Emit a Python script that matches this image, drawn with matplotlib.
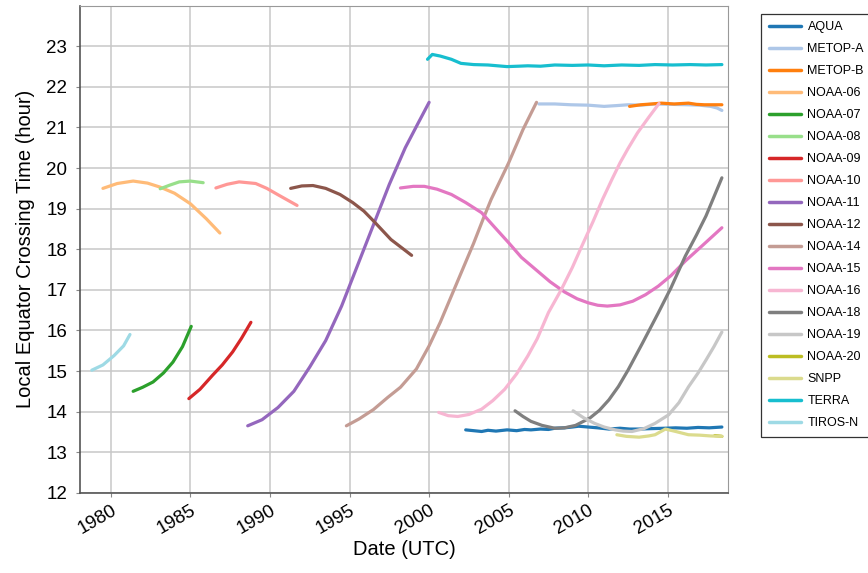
import matplotlib
matplotlib.use("Agg")
import matplotlib.pyplot as plt

plt.rcParams["font.family"] = ["Liberation Sans", "DejaVu Sans"]

# Satellite local equator crossing time
tiros_n_t = [1978.8, 1979.5, 1980.2, 1980.8, 1981.2]
tiros_n_h = [15.02, 15.15, 15.38, 15.62, 15.9]

noaa06_t = [1979.5, 1980.4, 1981.4, 1982.3, 1983.1, 1984.0, 1985.0, 1986.0, 1986.85]
noaa06_h = [19.5, 19.62, 19.68, 19.63, 19.53, 19.38, 19.12, 18.75, 18.4]

noaa07_t = [1981.4, 1982.0, 1982.65, 1983.3, 1983.9, 1984.5, 1985.05]
noaa07_h = [14.5, 14.6, 14.73, 14.95, 15.22, 15.6, 16.1]

noaa08_t = [1983.1, 1983.7, 1984.3, 1985.0, 1985.8]
noaa08_h = [19.49, 19.58, 19.66, 19.68, 19.64]

noaa09_t = [1984.9, 1985.6, 1986.4, 1987.0, 1987.65, 1988.2, 1988.8]
noaa09_h = [14.32, 14.55, 14.9, 15.15, 15.47, 15.8, 16.2]

noaa10_t = [1986.6, 1987.3, 1988.06, 1989.1, 1989.8, 1990.56, 1991.7]
noaa10_h = [19.51, 19.6, 19.66, 19.62, 19.5, 19.33, 19.08]

noaa11_t = [1988.6, 1989.5, 1990.5, 1991.5, 1992.5, 1993.5, 1994.5, 1995.5,
            1996.5, 1997.5, 1998.5, 1999.3, 2000.0]
noaa11_h = [13.65, 13.8, 14.1, 14.5, 15.1, 15.75, 16.6, 17.6,
            18.6, 19.6, 20.5, 21.1, 21.62]

noaa12_t = [1991.3, 1992.0, 1992.7, 1993.5, 1994.4, 1995.2, 1995.9, 1996.5, 1997.6, 1998.9]
noaa12_h = [19.5, 19.56, 19.57, 19.5, 19.35, 19.15, 18.94, 18.7, 18.24, 17.85]

noaa14_t = [1994.8, 1995.6, 1996.5, 1997.4, 1998.2, 1999.2, 2000.0, 2000.7, 2001.4,
            2002.1, 2002.8, 2003.4, 2003.9, 2004.5, 2005.0, 2005.9, 2006.75]
noaa14_h = [13.65, 13.82, 14.05, 14.35, 14.6, 15.05, 15.62, 16.2, 16.85,
            17.5, 18.15, 18.75, 19.23, 19.72, 20.13, 20.95, 21.62]

noaa15_t = [1998.2, 1999.0, 1999.7, 2000.5, 2001.4, 2002.3, 2003.3, 2004.1, 2005.0,
            2005.8, 2006.7, 2007.6, 2008.5, 2009.3, 2010.0, 2010.6, 2011.2, 2012.0,
            2012.8, 2013.6, 2014.4, 2015.2, 2016.1, 2017.2, 2018.4]
noaa15_h = [19.51, 19.55, 19.55, 19.48, 19.35, 19.15, 18.9, 18.55, 18.16,
            17.8, 17.5, 17.2, 16.95, 16.78, 16.68, 16.62, 16.6, 16.63,
            16.72, 16.88, 17.09, 17.35, 17.71, 18.1, 18.53]

noaa16_t = [2000.6, 2001.2, 2001.8, 2002.5, 2003.3, 2004.0, 2004.75, 2005.5, 2006.2,
            2006.8, 2007.5, 2008.3, 2009.0, 2009.6, 2010.3, 2010.9, 2011.5, 2012.0,
            2012.5, 2013.1, 2013.8, 2014.45]
noaa16_h = [13.98, 13.9, 13.88, 13.93, 14.06, 14.27, 14.55, 14.93, 15.37,
            15.8, 16.44, 17.0, 17.55, 18.08, 18.68, 19.23, 19.73, 20.13,
            20.48, 20.87, 21.25, 21.59]

noaa18_t = [2005.4, 2005.9, 2006.4, 2007.1, 2007.9, 2008.5, 2009.2, 2010.1, 2010.7,
            2011.3, 2011.9, 2012.5, 2013.4, 2014.4, 2015.2, 2016.1, 2016.8, 2017.4, 2018.4]
noaa18_h = [14.02, 13.88, 13.76, 13.66, 13.59, 13.6, 13.66, 13.84, 14.03,
            14.29, 14.62, 15.02, 15.68, 16.43, 17.05, 17.83, 18.35, 18.82, 19.76]

noaa19_t = [2009.05, 2009.7, 2010.4, 2011.0, 2011.7, 2012.2, 2012.75, 2013.5, 2014.2,
            2015.05, 2015.7, 2016.3, 2016.9, 2017.4, 2017.9, 2018.4]
noaa19_h = [14.02, 13.85, 13.71, 13.62, 13.55, 13.52, 13.51, 13.58, 13.71,
            13.92, 14.22, 14.61, 14.95, 15.27, 15.6, 15.96]

noaa20_t = [2017.95, 2018.2, 2018.4]
noaa20_h = [13.41, 13.4, 13.39]

aqua_t = [2002.3, 2002.8, 2003.3, 2003.7, 2004.2, 2004.9, 2005.5, 2006.0, 2006.4,
          2007.0, 2007.5, 2007.9, 2008.5, 2009.0, 2009.4, 2010.0, 2010.6, 2011.3,
          2012.0, 2012.6, 2013.2, 2013.9, 2014.8, 2015.5, 2016.2, 2016.9, 2017.6, 2018.4]
aqua_h = [13.55, 13.53, 13.51, 13.54, 13.52, 13.55, 13.53, 13.56, 13.55,
          13.57, 13.56, 13.59, 13.6, 13.62, 13.64, 13.62, 13.6, 13.57,
          13.59, 13.57, 13.57, 13.58, 13.59, 13.6, 13.59, 13.61, 13.6, 13.62]

snpp_t = [2011.8, 2012.4, 2013.2, 2013.8, 2014.2, 2014.85, 2015.5, 2016.3, 2017.0,
          2017.7, 2018.4]
snpp_h = [13.43, 13.39, 13.37, 13.4, 13.43, 13.57, 13.51, 13.43, 13.42,
          13.4, 13.39]

terra_t = [1999.9, 2000.2, 2000.7, 2001.4, 2002.0, 2002.8, 2003.7, 2004.3, 2004.9,
           2005.6, 2006.2, 2007.0, 2007.9, 2009.0, 2010.0, 2011.0, 2012.1, 2013.2,
           2014.2, 2015.3, 2016.4, 2017.4, 2018.4]
terra_h = [22.68, 22.8, 22.76, 22.68, 22.58, 22.55, 22.54, 22.52, 22.5,
           22.51, 22.52, 22.51, 22.54, 22.53, 22.54, 22.52, 22.54, 22.53,
           22.55, 22.54, 22.55, 22.54, 22.55]

metop_a_t = [2006.9, 2007.9, 2008.9, 2010.0, 2011.0, 2011.8, 2012.5, 2013.3, 2014.2,
             2015.2, 2016.3, 2017.0, 2017.7, 2018.1, 2018.4]
metop_a_h = [21.58, 21.58, 21.56, 21.55, 21.52, 21.54, 21.56, 21.55, 21.58,
             21.57, 21.56, 21.55, 21.52, 21.48, 21.42]

metop_b_t = [2012.6, 2013.3, 2014.0, 2014.6, 2015.4, 2016.3, 2016.8, 2017.3, 2018.4]
metop_b_h = [21.52, 21.56, 21.58, 21.6, 21.58, 21.6, 21.57, 21.56, 21.56]

names = ["AQUA", "METOP-A", "METOP-B", "NOAA-06", "NOAA-07", "NOAA-08", "NOAA-09",
         "NOAA-10", "NOAA-11", "NOAA-12", "NOAA-14", "NOAA-15", "NOAA-16", "NOAA-18",
         "NOAA-19", "NOAA-20", "SNPP", "TERRA", "TIROS-N"]
series = [(aqua_t, aqua_h), (metop_a_t, metop_a_h), (metop_b_t, metop_b_h),
          (noaa06_t, noaa06_h), (noaa07_t, noaa07_h), (noaa08_t, noaa08_h),
          (noaa09_t, noaa09_h), (noaa10_t, noaa10_h), (noaa11_t, noaa11_h),
          (noaa12_t, noaa12_h), (noaa14_t, noaa14_h), (noaa15_t, noaa15_h),
          (noaa16_t, noaa16_h), (noaa18_t, noaa18_h), (noaa19_t, noaa19_h),
          (noaa20_t, noaa20_h), (snpp_t, snpp_h), (terra_t, terra_h),
          (tiros_n_t, tiros_n_h)]

# tab20 with the light purple dropped
tab20 = plt.get_cmap("tab20").colors
colors = [c for k, c in enumerate(tab20) if k != 9]

fig = plt.figure(figsize=(8.68, 5.73), dpi=100)
ax = fig.add_axes([0.092, 0.14, 0.747, 0.85])

for i, (t, h) in enumerate(series):
    ax.plot(t, h, color=colors[i], lw=2.3, label=names[i], solid_capstyle="round")

ax.set_xlim(1978.05, 2018.8)
ax.set_ylim(12, 24)
ax.set_yticks(range(12, 24))
ax.set_xticks(range(1980, 2016, 5))
ax.grid(True, color="#c8c8c8", lw=1.1)
ax.set_axisbelow(True)
for side in ["left", "bottom"]:
    ax.spines[side].set_color("#555555")
    ax.spines[side].set_linewidth(1.2)
for side in ["top", "right"]:
    ax.spines[side].set_color("#999999")
ax.tick_params(axis="both", labelsize=13.5, length=3, color="#888888")
ax.tick_params(axis="y", pad=6)
plt.setp(ax.get_xticklabels(), rotation=30, ha="right", rotation_mode="anchor")
ax.set_xlabel("Date (UTC)", fontsize=14.5, labelpad=2)
ax.set_ylabel("Local Equator Crossing Time (hour)", fontsize=14.5, labelpad=8)

leg = fig.legend(loc="upper left", bbox_to_anchor=(0.877, 0.976), fontsize=9,
                 frameon=True, fancybox=False, edgecolor="black",
                 handlelength=2.6, labelspacing=0.8, borderpad=0.6,
                 handletextpad=0.5, borderaxespad=0)
leg.get_frame().set_linewidth(0.9)
for line in leg.get_lines():
    line.set_linewidth(2.5)

fig.savefig("out.png", dpi=100)
